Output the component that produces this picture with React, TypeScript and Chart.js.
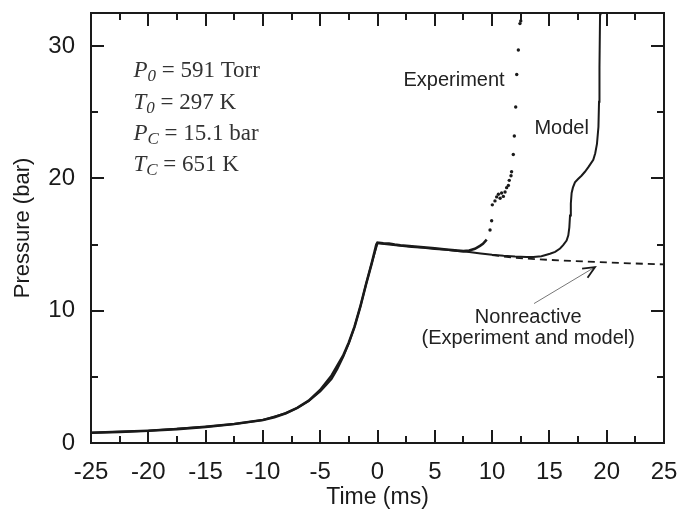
import React, { useEffect, useRef } from "react";
import { Chart, registerables } from "chart.js";

Chart.register(...registerables);

// ---- Data ----
const expTime = [
  -25, -22.5, -20, -17.5, -15, -12.5, -10, -9, -8, -7,
  -6, -5, -4, -3, -2.5, -2, -1.5, -1, -0.5, -0.1,
  0, 0.5, 1, 1.5, 2, 3, 4, 5, 6, 7,
  7.5, 8, 8.5, 8.94, 9.2, 9.53,
  9.82, 9.96, 10.02, 10.25, 10.4, 10.55, 10.7, 10.83, 10.98, 11.13,
  11.27, 11.42, 11.5, 11.65, 11.7, 11.85, 11.94, 12.06, 12.15, 12.29,
  12.43, 12.5,
];
const expPressure = [
  0.78, 0.84, 0.93, 1.05, 1.22, 1.43, 1.74, 1.95, 2.25, 2.65,
  3.2, 4.0, 5.1, 6.6, 7.6, 8.8, 10.3, 12.0, 13.6, 15.0,
  15.15, 15.1, 15.08, 15.0, 14.95, 14.87, 14.8, 14.72, 14.63, 14.54,
  14.5, 14.55, 14.68, 14.9, 15.05, 15.37,
  16.1, 16.8, 18.0, 18.3, 18.6, 18.8, 18.5, 18.9, 18.64, 18.97,
  19.3, 19.47, 19.85, 20.2, 20.5, 21.8, 23.2, 25.4, 27.85, 29.7,
  31.7, 31.9,
];
// experiment is a dense trace up to this time, scattered points after it
const expDenseUntil = 9.6;

const modelTime = [
  -25, -20, -15, -12.5, -10, -8, -7, -6, -5, -4.5,
  -4, -3.5, -3, -2.5, -2, -1.5, -1, -0.5, 0, 1,
  2, 3, 4, 5, 6, 7, 8, 9, 10, 11,
  12, 13, 13.6, 14.3, 15.05, 15.5, 15.93, 16.2, 16.5, 16.65,
  16.74, 16.8, 16.87, 16.94, 17.05, 17.23, 17.5, 17.8, 18.1, 18.4,
  18.83, 19.0, 19.15, 19.28, 19.33, 19.37, 19.42, 19.46,
];
const modelPressure = [
  0.78, 0.93, 1.22, 1.43, 1.74, 2.25, 2.65, 3.18, 3.9, 4.35,
  4.85, 5.6, 6.5, 7.55, 8.8, 10.3, 12.0, 13.6, 15.1, 15.0,
  14.9, 14.82, 14.75, 14.67, 14.6, 14.52, 14.43, 14.33, 14.23, 14.15,
  14.09, 14.06, 14.05, 14.12, 14.3, 14.45, 14.7, 14.95, 15.3, 15.7,
  16.3, 17.2, 18.1, 18.9, 19.3, 19.7, 19.95, 20.2, 20.5, 20.85,
  21.4, 21.9, 22.6, 23.9, 25.8, 28.4, 32.4, 34,
];

const nonreactiveTime = [10, 12, 14, 16, 18, 20, 22, 25];
const nonreactivePressure = [14.2, 14.0, 13.88, 13.8, 13.72, 13.65, 13.58, 13.5];

const xTicks = [-25, -20, -15, -10, -5, 0, 5, 10, 15, 20, 25];
const yTicks = [0, 10, 20, 30];

const X_MIN = -25;
const X_MAX = 25;
const Y_MIN = 0;
const Y_MAX = 32.5;
const X_MINOR = 2.5;
const X_MAJOR = 5;
const Y_MINOR = 5;
const Y_MAJOR = 10;

// ---- annotation placement (data coordinates) ----
const labelNotes = [
  { text: "Experiment", x: 6.68, y: 27.4 },
  { text: "Model", x: 16.07, y: 23.75 },
  { text: "Nonreactive", x: 13.15, y: 9.49 },
  { text: "(Experiment and model)", x: 13.15, y: 7.9 },
];
const arrowFrom = { x: 13.66, y: 10.54 };
const arrowTo = { x: 18.98, y: 13.3 };

const paramLines = [
  { sym: "P", sub: "0", rest: " = 591 Torr" },
  { sym: "T", sub: "0", rest: " = 297 K" },
  { sym: "P", sub: "C", rest: " = 15.1 bar" },
  { sym: "T", sub: "C", rest: " = 651 K" },
];
const paramX = -21.3;
const paramBaselines = [27.65, 25.26, 22.92, 20.55];

const SANS = '"Liberation Sans", Arial, Helvetica, sans-serif';
const SERIF = '"Liberation Serif", "Times New Roman", serif';
const INK = "#1a1a1a";

const zip = (xs: number[], ys: number[]) => xs.map((x, i) => ({ x, y: ys[i] }));

const noPad = (s: any) => {
  s.paddingTop = 0;
  s.paddingBottom = 0;
  s.paddingLeft = 0;
  s.paddingRight = 0;
};

const decorPlugin = {
  id: "decor",
  afterDraw(chart: any) {
    const { ctx, chartArea: a, scales } = chart;
    const xs = scales.x;
    const ys = scales.y;
    ctx.save();
    ctx.strokeStyle = INK;
    ctx.lineWidth = 2;
    ctx.lineCap = "butt";
    const seg = (x1: number, y1: number, x2: number, y2: number) => {
      ctx.beginPath();
      ctx.moveTo(x1, y1);
      ctx.lineTo(x2, y2);
      ctx.stroke();
    };
    // frame
    ctx.strokeRect(a.left, a.top, a.right - a.left, a.bottom - a.top);
    // inward ticks on x (bottom & top)
    for (let v = X_MIN + X_MINOR; v < X_MAX - 1e-9; v += X_MINOR) {
      const px = Math.round(xs.getPixelForValue(v));
      const r = v / X_MAJOR;
      const major = Math.abs(r - Math.round(r)) < 1e-6;
      const len = major ? 13 : 7;
      seg(px, a.bottom, px, a.bottom - len);
      seg(px, a.top, px, a.top + len);
    }
    // inward ticks on y (left & right)
    for (let v = Y_MIN + Y_MINOR; v < Y_MAX - 1e-9; v += Y_MINOR) {
      const py = Math.round(ys.getPixelForValue(v));
      const r = v / Y_MAJOR;
      const major = Math.abs(r - Math.round(r)) < 1e-6;
      const len = major ? 13 : 7;
      seg(a.left, py, a.left + len, py);
      seg(a.right, py, a.right - len, py);
    }

    // text labels
    ctx.fillStyle = "#222";
    ctx.font = `20px ${SANS}`;
    ctx.textAlign = "center";
    ctx.textBaseline = "middle";
    for (const n of labelNotes) {
      ctx.fillText(n.text, xs.getPixelForValue(n.x), ys.getPixelForValue(n.y));
    }

    // arrow
    const x1 = xs.getPixelForValue(arrowFrom.x);
    const y1 = ys.getPixelForValue(arrowFrom.y);
    const x2 = xs.getPixelForValue(arrowTo.x);
    const y2 = ys.getPixelForValue(arrowTo.y);
    ctx.strokeStyle = "#777";
    ctx.lineWidth = 1;
    seg(x1, y1, x2, y2);
    const ang = Math.atan2(y2 - y1, x2 - x1);
    const hl = 13;
    const spread = 0.42;
    ctx.strokeStyle = INK;
    ctx.lineWidth = 1.8;
    ctx.beginPath();
    ctx.moveTo(x2 - hl * Math.cos(ang - spread), y2 - hl * Math.sin(ang - spread));
    ctx.lineTo(x2, y2);
    ctx.lineTo(x2 - hl * Math.cos(ang + spread), y2 - hl * Math.sin(ang + spread));
    ctx.stroke();

    // parameter block
    ctx.fillStyle = "#333";
    ctx.textAlign = "left";
    ctx.textBaseline = "alphabetic";
    const px0 = xs.getPixelForValue(paramX);
    paramLines.forEach((ln, i) => {
      const by = ys.getPixelForValue(paramBaselines[i]);
      let cx = px0;
      ctx.font = `italic 23px ${SERIF}`;
      ctx.fillText(ln.sym, cx, by);
      cx += ctx.measureText(ln.sym).width;
      ctx.font = `italic 17px ${SERIF}`;
      ctx.fillText(ln.sub, cx, by + 4);
      cx += ctx.measureText(ln.sub).width;
      ctx.font = `23px ${SERIF}`;
      ctx.fillText(ln.rest, cx, by);
    });
    ctx.restore();
  },
};

export default function App() {
  const ref = useRef<HTMLCanvasElement | null>(null);

  useEffect(() => {
    const canvas = ref.current;
    if (!canvas) return;
    Chart.defaults.font.family = SANS;
    Chart.defaults.color = INK;

    const chart = new Chart(canvas, {
      type: "scatter",
      data: {
        datasets: [
          {
            label: "Experiment",
            data: zip(expTime, expPressure),
            showLine: true,
            borderColor: INK,
            backgroundColor: INK,
            borderWidth: 2.6,
            pointBorderWidth: 0,
            pointRadius: (c: any) => (c.raw && c.raw.x > expDenseUntil ? 1.7 : 0),
            segment: {
              borderColor: (c: any) =>
                c.p1.parsed.x > expDenseUntil ? "rgba(0,0,0,0)" : INK,
            },
            tension: 0,
          } as any,
          {
            label: "Model",
            data: zip(modelTime, modelPressure),
            showLine: true,
            borderColor: INK,
            borderWidth: 2,
            pointRadius: 0,
            tension: 0,
          },
          {
            label: "Nonreactive",
            data: zip(nonreactiveTime, nonreactivePressure),
            showLine: true,
            borderColor: INK,
            borderWidth: 1.8,
            borderDash: [7, 5],
            pointRadius: 0,
            tension: 0,
          },
        ],
      },
      options: {
        responsive: false,
        animation: false,
        events: [],
        layout: { padding: { left: 0, top: 13, right: 19, bottom: 0 } },
        plugins: {
          legend: { display: false },
          tooltip: { enabled: false },
        },
        scales: {
          x: {
            type: "linear",
            min: X_MIN,
            max: X_MAX,
            afterBuildTicks: (s: any) => {
              s.ticks = xTicks.map((v) => ({ value: v }));
            },
            ticks: {
              font: { size: 24 },
              color: INK,
              padding: 15,
              maxRotation: 0,
              autoSkip: false,
            },
            grid: { display: false, drawTicks: false },
            border: { display: false },
            title: {
              display: true,
              text: "Time (ms)",
              font: { size: 23 },
              color: INK,
              padding: { top: 0, bottom: 1 },
            },
            afterFit: (s: any) => {
              s.height = 69;
              noPad(s);
            },
          },
          y: {
            type: "linear",
            min: Y_MIN,
            max: Y_MAX,
            afterBuildTicks: (s: any) => {
              s.ticks = yTicks.map((v) => ({ value: v }));
            },
            ticks: {
              font: { size: 24 },
              color: INK,
              padding: 16,
              autoSkip: false,
            },
            grid: { display: false, drawTicks: false },
            border: { display: false },
            title: {
              display: true,
              text: "Pressure (bar)",
              font: { size: 22 },
              color: INK,
              padding: { top: 10, bottom: 0 },
            },
            afterFit: (s: any) => {
              s.width = 91;
              noPad(s);
            },
          },
        },
      },
      plugins: [decorPlugin],
    });
    return () => chart.destroy();
  }, []);

  return (
    <div style={{ position: "fixed", left: 0, top: 0, width: 683, height: 512, background: "#fff" }}>
      <canvas ref={ref} width={683} height={512} style={{ display: "block" }} />
    </div>
  );
}
